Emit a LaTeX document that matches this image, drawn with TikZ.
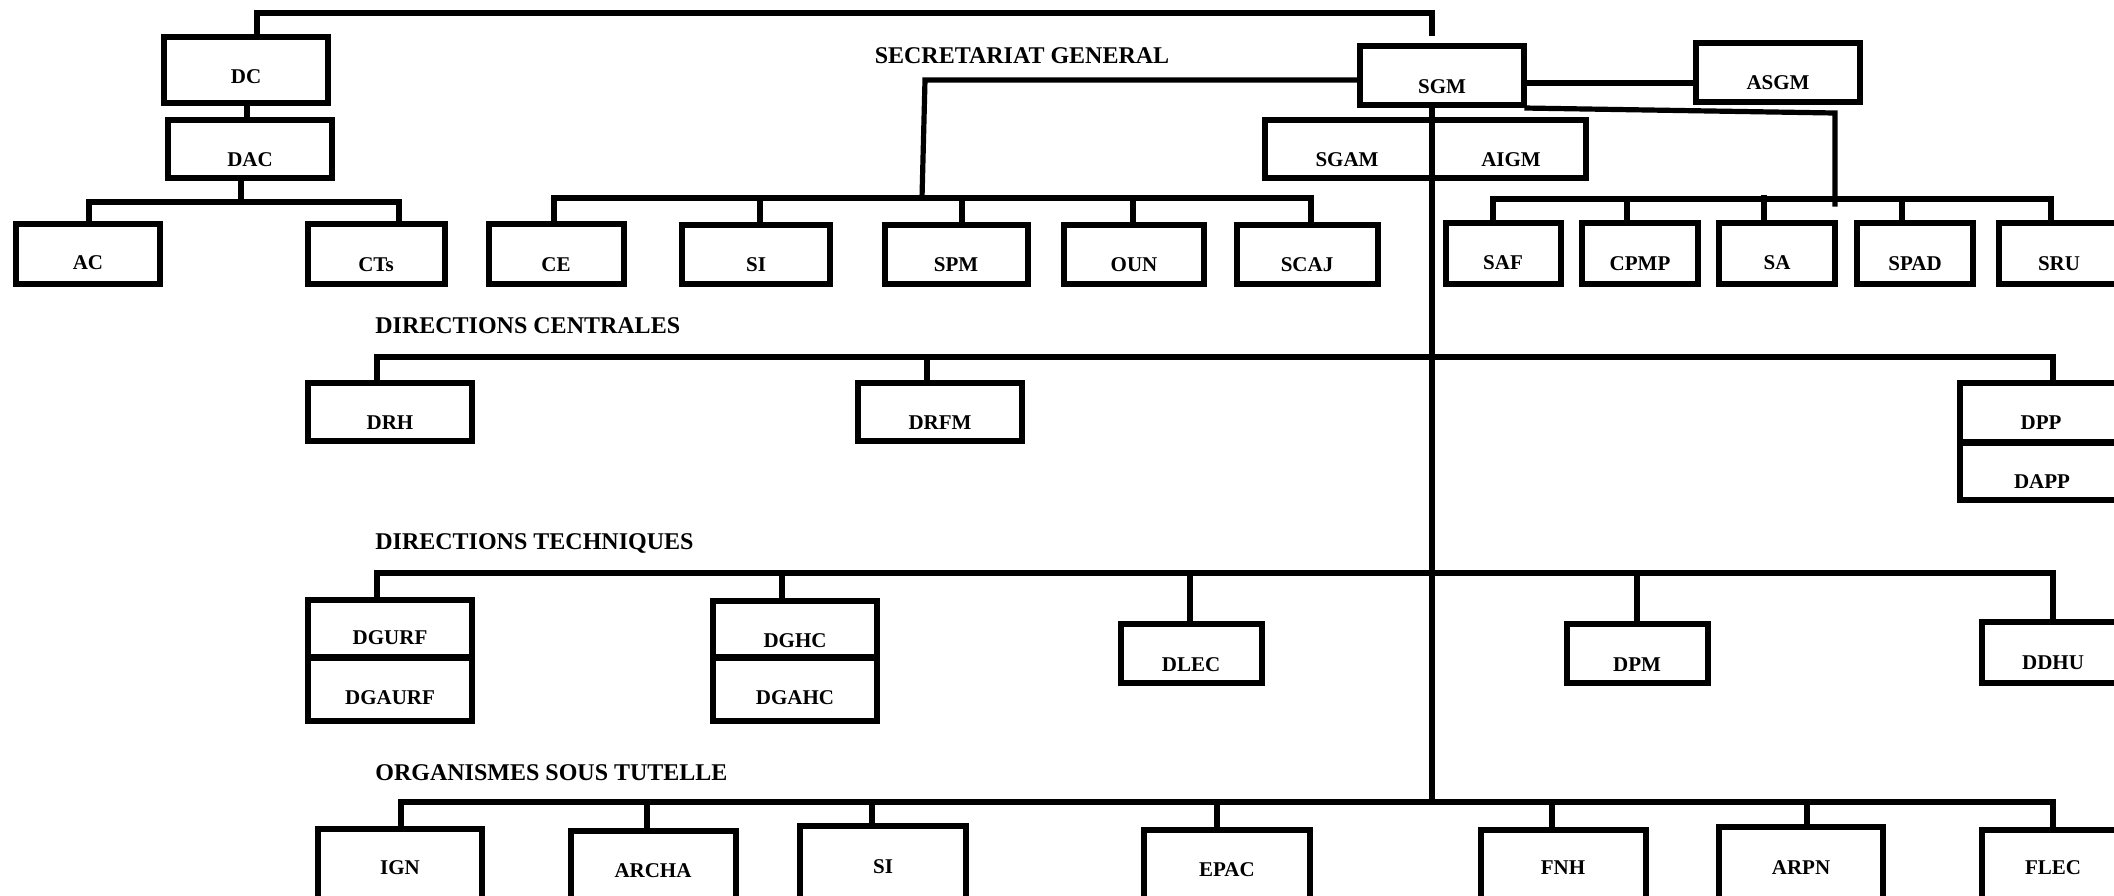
\documentclass[tikz,border=0pt]{standalone}
\usepackage{fontspec}
\setmainfont{Liberation Serif}
\tikzset{
  box/.style={draw, line width=2.8pt, rectangle, inner sep=0pt},
  lbl/.style={font=\bfseries\fontsize{10.5}{12}\selectfont, inner sep=0pt, text height=6.9pt, text depth=0pt},
  head/.style={font=\bfseries\fontsize{12}{14}\selectfont, inner sep=0pt, text height=7.9pt, text depth=0pt},
  conn/.style={line width=2.6pt, line cap=rect, line join=miter},
}
\newcommand\ob[5]{%
  \node[box, minimum width={(#4-#2-5.5)*0.5pt}, minimum height={(#5-#3-5.5)*0.5pt}] (#1) at ({(#2+#4)/2},{(#3+#5)/2}) {};}
\newcommand\ol[4]{\node[lbl] (#1) at (#2,#3) {#4};}
\begin{document}
\begin{tikzpicture}[x=0.5pt,y=-0.5pt]
\clip (0,0) rectangle (2114,895);
% ---- boxes
\ob{dc}{161}{34}{331}{106}
\ob{dac}{165}{117}{335}{181}
\ob{ac}{13}{221}{163}{287}
\ob{cts}{305}{221}{448}{287}
\ob{ce}{486}{221}{627}{287}
\ob{si}{679}{222}{833}{287}
\ob{spm}{882}{222}{1031}{287}
\ob{oun}{1061}{222}{1207}{287}
\ob{scaj}{1234}{222}{1381}{287}
\ob{sgm}{1357}{43}{1527}{108}
\ob{asgm}{1693}{40}{1863}{105}
\ob{sgam}{1262}{117}{1435}{181}
\ob{aigm}{1429}{117}{1589}{181}
\ob{saf}{1443}{220}{1564}{287}
\ob{cpmp}{1579}{220}{1701}{287}
\ob{sa}{1716}{220}{1838}{287}
\ob{spad}{1854}{220}{1976}{287}
\ob{sru}{1996}{220}{2124}{287}
\ob{drh}{305}{380}{475}{444}
\ob{drfm}{855}{380}{1025}{444}
\ob{dpp}{1957}{380}{2127}{445}
\ob{dapp}{1957}{440}{2127}{503}
\ob{dgurf}{305}{597}{475}{660}
\ob{dgaurf}{305}{655}{475}{724}
\ob{dghc}{710}{598}{880}{660}
\ob{dgahc}{710}{655}{880}{724}
\ob{dlec}{1118}{621}{1265}{686}
\ob{dpm}{1564}{621}{1711}{686}
\ob{ddhu}{1979}{619}{2127}{686}
\ob{ign}{315}{826}{485}{905}
\ob{archa}{568}{828}{739}{905}
\ob{sitwo}{797}{823}{969}{905}
\ob{epac}{1141}{827}{1313}{905}
\ob{fnh}{1478}{827}{1649}{905}
\ob{arpn}{1716}{824}{1886}{905}
\ob{flec}{1979}{827}{2127}{905}
% ---- labels
\ol{dct}{246}{77}{DC}
\ol{dact}{250}{160}{DAC}
\ol{act}{88}{263}{AC}
\ol{ctst}{376}{265}{CTs}
\ol{cet}{556}{265}{CE}
\ol{sit}{756}{265}{SI}
\ol{spmt}{956}{265}{SPM}
\ol{ount}{1134}{265}{OUN}
\ol{scajt}{1307}{265}{SCAJ}
\ol{sgmt}{1442}{87}{SGM}
\ol{asgmt}{1778}{83}{ASGM}
\ol{sgamt}{1347}{160}{SGAM}
\ol{aigmt}{1511}{160}{AIGM}
\ol{saft}{1503}{263}{SAF}
\ol{cpmpt}{1640}{264}{CPMP}
\ol{sat}{1777}{263}{SA}
\ol{spadt}{1915}{264}{SPAD}
\ol{srut}{2059}{264}{SRU}
\ol{drht}{390}{423}{DRH}
\ol{drfmt}{940}{423}{DRFM}
\ol{dppt}{2041}{423}{DPP}
\ol{dappt}{2042}{482}{DAPP}
\ol{dgurft}{390}{638}{DGURF}
\ol{dgaurft}{390}{698}{DGAURF}
\ol{dghct}{795}{641}{DGHC}
\ol{dgahct}{795}{698}{DGAHC}
\ol{dlect}{1191}{665}{DLEC}
\ol{dpmt}{1637}{665}{DPM}
\ol{ddhut}{2053}{663}{DDHU}
\ol{ignt}{400}{868}{IGN}
\ol{archat}{653}{871}{ARCHA}
\ol{sitwot}{883}{867}{SI}
\ol{epact}{1227}{870}{EPAC}
\ol{fnht}{1563}{868}{FNH}
\ol{arpnt}{1801}{868}{ARPN}
\ol{flect}{2053}{868}{FLEC}
% ---- headings
\node[head] (hsg) at (1022,56) {SECRETARIAT GENERAL};
\node[head, anchor=west] (hdc) at (375,326) {DIRECTIONS CENTRALES};
\node[head, anchor=west] (hdt) at (375,542) {DIRECTIONS TECHNIQUES};
\node[head, anchor=west] (host) at (375,773) {ORGANISMES SOUS TUTELLE};
% ---- connectors
\coordinate (gap) at (1432,33);
\draw[conn] (dc.north -| 257,0) -- (257,13) -- (1432,13) -- (gap);
\draw[conn] (dc.south -| 247,0) -- (dac.north -| 247,0);
\draw[conn] (dac.south -| 241,0) -- (241,202);
\draw[conn] (ac.north -| 89,0) -- (89,202) -- (399,202) -- (cts.north -| 399,0);
% secretariat general
\draw[conn] (sgm.west |- 0,80) -- (925,80) -- (922,198);
\draw[conn] (ce.north -| 554,0) -- (554,198) -- (1311,198) -- (scaj.north -| 1311,0);
\draw[conn] (si.north -| 760,0) -- (760,198);
\draw[conn] (spm.north -| 962,0) -- (962,198);
\draw[conn] (oun.north -| 1133,0) -- (1133,198);
% SGM right side
\draw[conn] (sgm.east |- 0,83) -- (asgm.west |- 0,83);
\draw[conn] (sgm.south east) -- (1835,113) -- (1835,204);
\draw[conn] (saf.north -| 1493,0) -- (1493,199) -- (2051,199) -- (sru.north -| 2051,0);
\draw[conn] (cpmp.north -| 1627,0) -- (1627,199);
\draw[conn] (sa.north -| 1764,0) -- (1764,198);
\draw[conn] (spad.north -| 1902,0) -- (1902,199);
% trunk
\draw[conn] (sgm.south -| 1432,0) -- (1432,802);
% directions centrales
\draw[conn] (drh.north -| 377,0) -- (377,357) -- (2053,357) -- (dpp.north -| 2053,0);
\draw[conn] (drfm.north -| 927,0) -- (927,357);
% directions techniques
\draw[conn] (dgurf.north -| 377,0) -- (377,573) -- (2053,573) -- (ddhu.north -| 2053,0);
\draw[conn] (dghc.north -| 782,0) -- (782,573);
\draw[conn] (dlec.north -| 1190,0) -- (1190,573);
\draw[conn] (dpm.north -| 1637,0) -- (1637,573);
% organismes sous tutelle
\draw[conn] (ign.north -| 401,0) -- (401,802) -- (2053,802) -- (flec.north -| 2053,0);
\draw[conn] (archa.north -| 647,0) -- (647,802);
\draw[conn] (sitwo.north -| 872,0) -- (872,802);
\draw[conn] (epac.north -| 1217,0) -- (1217,802);
\draw[conn] (fnh.north -| 1552,0) -- (1552,802);
\draw[conn] (arpn.north -| 1807,0) -- (1807,802);
\end{tikzpicture}
\end{document}
